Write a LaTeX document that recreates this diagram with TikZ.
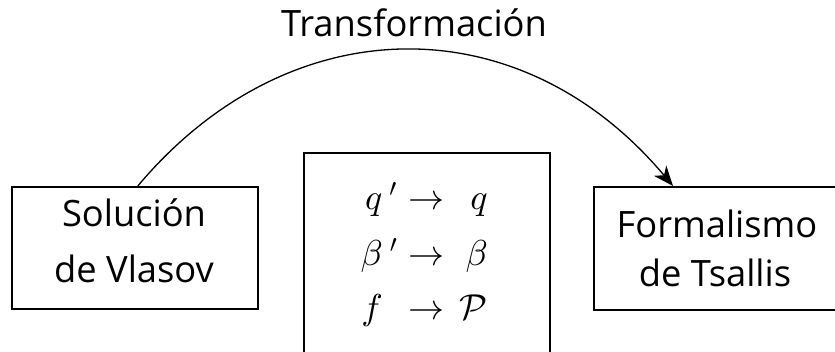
\documentclass[tikz,border=0pt]{standalone}
\usepackage{fontspec}
\setmainfont{Open Sans}
\DeclareFontShape{OML}{cmm}{m}{it}{<->cmmi10}{}
\DeclareFontShape{OMS}{cmsy}{m}{n}{<->cmsy10}{}
\DeclareFontShape{OT1}{cmr}{m}{n}{<->cmr10}{}
\usetikzlibrary{arrows.meta}
\begin{document}
\begin{tikzpicture}[x=1pt,y=-1pt,
  boxn/.style={draw,line width=1.6pt,inner sep=0pt,anchor=north west},
  lbl/.style={font=\fontsize{36.3}{44}\selectfont,anchor=base,inner sep=0pt},
  mth/.style={font=\fontsize{36}{40}\selectfont,inner sep=0pt,anchor=base},
  mthr/.style={mth,anchor=base east},
  arc/.style={line width=1.3pt,-{Stealth[length=20pt,width=16pt,inset=6pt]}}]
\useasboundingbox (0,0) rectangle (835,352);
\clip (0,0) rectangle (835,352);
% boxes
\node[boxn,minimum width=246pt,minimum height=122pt] (vl) at (11,186) {};
\node[boxn,minimum width=246pt,minimum height=260pt] (mid) at (303,152) {};
\node[boxn,minimum width=246pt,minimum height=123pt] (ts) at (593,186) {};
% texts
\node[lbl] (s1) at (134,227) {Solución};
\node[lbl] (s2) at (134,283) {de Vlasov};
\node[lbl] (f1) at (717,238) {Formalismo};
\node[lbl] (f2) at (715,287) {de Tsallis};
\node[lbl] (tr) at (414,37) {Transformación};
% math
\node[mth] (l1) at (381,210) {$q^{\;\prime}$};
\node[mth] (a1) at (426,210) {$\rightarrow$};
\node[mthr] (r1) at (488,210) {$q$};
\node[mth] (l2) at (379,266) {$\beta^{\;\prime}$};
\node[mth] (a2) at (426,266) {$\rightarrow$};
\node[mthr] (r2) at (488,266) {$\beta$};
\node[mth] (l3) at (372,320) {$f$};
\node[mth] (a3) at (426,320) {$\rightarrow$};
\node[mthr] (r3) at (488,320) {$\mathcal{P}$};
% arc
\coordinate (tip) at (673,186);
\draw[arc] ([xshift=3pt]vl.north) .. controls +(152,-181) and +(-152,-181) .. (tip);
\end{tikzpicture}
\end{document}
